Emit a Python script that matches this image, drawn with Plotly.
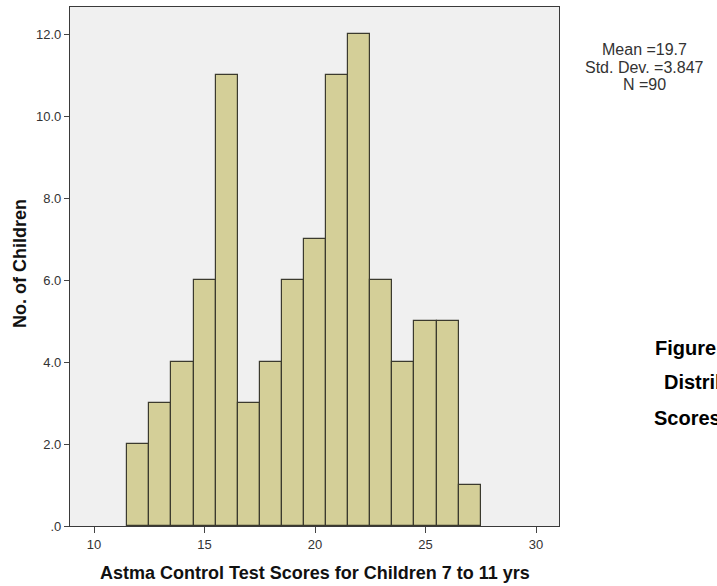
import plotly.graph_objects as go

# Histogram of asthma control test scores (one bin per integer score)
scores = [12, 13, 14, 15, 16, 17, 18, 19, 20, 21, 22, 23, 24, 25, 26, 27]
counts = [2, 3, 4, 6, 11, 3, 4, 6, 7, 11, 12, 6, 4, 5, 5, 1]

y_tick_vals = [0, 2, 4, 6, 8, 10, 12]
y_tick_text = [".0", "2.0", "4.0", "6.0", "8.0", "10.0", "12.0"]
x_tick_vals = [10, 15, 20, 25, 30]

x_title = "Astma Control Test Scores for Children 7 to 11 yrs"
y_title = "No. of Children"
stats_lines = ["Mean =19.7", "Std. Dev. =3.847", "N =90"]
caption_lines = ["Figure 2:", "Distribution of", "Scores"]

FONT = "Liberation Sans, Arial, sans-serif"

W, H = 717, 586
L, R, T, B = 70, 158, 7, 60
PW, PH = W - L - R, H - T - B


def px(x):
    """Pixel column -> paper x."""
    return (x - L) / PW


def py(y):
    """Pixel row (from top) -> paper y."""
    return (H - B - y) / PH


fig = go.Figure(
    go.Bar(
        x=scores,
        y=counts,
        width=1,
        marker=dict(color="#D4CF98", line=dict(color="#3B3A2E", width=1.2)),
        hoverinfo="x+y",
    )
)

fig.update_layout(
    width=W,
    height=H,
    margin=dict(l=L, r=R, t=T, b=B),
    paper_bgcolor="white",
    plot_bgcolor="#F0F0F0",
    showlegend=False,
    bargap=0,
    font=dict(family=FONT, size=13, color="#333333"),
)

axis_style = dict(
    ticks="outside",
    tickcolor="#444444",
    showgrid=False,
    zeroline=False,
    showline=True,
    linecolor="#3A3A3A",
    linewidth=1.2,
    mirror=True,
    tickfont=dict(size=13, color="#333333"),
)

fig.update_xaxes(range=[8.91, 31.04], tickvals=x_tick_vals, ticklen=6, **axis_style)
fig.update_yaxes(range=[0, 12.66], tickvals=y_tick_vals, ticktext=y_tick_text,
                 ticklen=5, **axis_style)

# Axis titles
fig.add_annotation(
    x=px(315), y=py(573), xref="paper", yref="paper", showarrow=False,
    text=f"<b>{x_title}</b>", xanchor="center", yanchor="middle",
    font=dict(size=18, color="#111111", family=FONT),
)
fig.add_annotation(
    x=px(20), y=py(264), xref="paper", yref="paper", showarrow=False,
    text=f"<b>{y_title}</b>", textangle=-90, xanchor="center", yanchor="middle",
    font=dict(size=18, color="#111111", family=FONT),
)

# Summary statistics block to the right of the plot
for text, cy in zip(stats_lines, [50, 67, 84]):
    fig.add_annotation(
        x=px(644), y=py(cy), xref="paper", yref="paper", showarrow=False,
        text=text, xanchor="center", yanchor="middle",
        font=dict(size=16, color="#333333", family=FONT),
    )

# Caption running off the right edge
for text, cx, cy in zip(caption_lines, [653, 662, 652], [348, 382, 418]):
    fig.add_annotation(
        x=px(cx), y=py(cy), xref="paper", yref="paper", showarrow=False,
        text=f"<b>{text}</b>", xanchor="left", yanchor="middle",
        font=dict(size=20, color="#000000", family=FONT),
    )

fig.write_html("out.html")
